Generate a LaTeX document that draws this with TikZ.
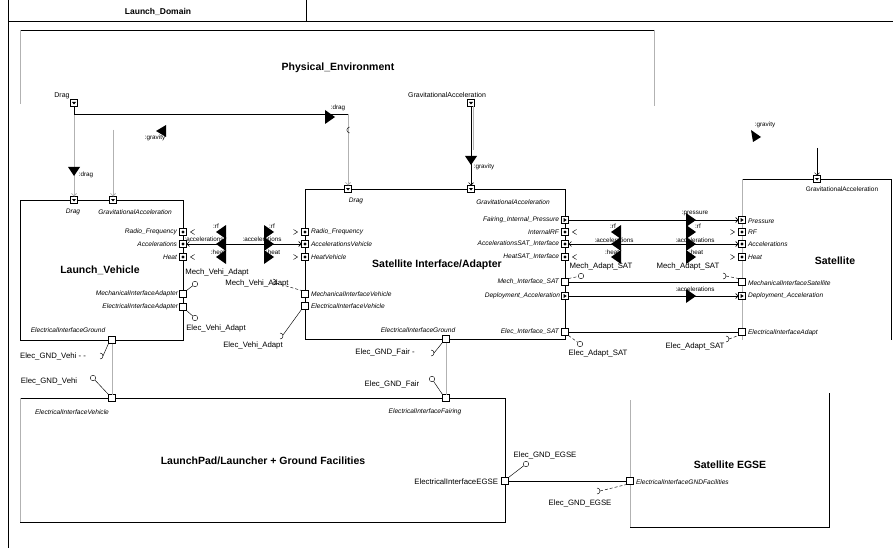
\documentclass[tikz,border=0pt]{standalone}
\usepackage{fontspec}
\setmainfont{Liberation Sans}
\usetikzlibrary{arrows.meta}
\newcommand\FlowL[2]{\fill (#1-6,#2) -- (#1+4,#2-7) -- (#1+4,#2+7) -- cycle;}
\newcommand\FlowR[2]{\fill (#1+6,#2) -- (#1-4,#2-7) -- (#1-4,#2+7) -- cycle;}
\newcommand\FlowD[2]{\fill (#1,#2+5) -- (#1-6,#2-4) -- (#1+6,#2-4) -- cycle;}
\newcommand\SockR[1]{\draw[wire] ([yshift=3pt]#1) arc[start angle=90,end angle=-90,radius=3pt];}
\newcommand\StubL[1]{\draw[wire] ([xshift=8pt,yshift=2.5pt]#1) -- ([xshift=4pt]#1) -- ([xshift=8pt,yshift=-2.5pt]#1);}
\newcommand\StubR[1]{\draw[wire] ([xshift=-8pt,yshift=2.5pt]#1) -- ([xshift=-4pt]#1) -- ([xshift=-8pt,yshift=-2.5pt]#1);}
\tikzset{
 every node/.style={inner sep=0pt, outer sep=0pt},
 plbl/.style={font=\fontsize{6.6}{7.5}\selectfont\itshape},
 lbl/.style={font=\fontsize{7.8}{9}\selectfont},
 flbl/.style={font=\fontsize{6.3}{7}\selectfont},
 ttl/.style={font=\fontsize{10.5}{12}\selectfont\bfseries},
 pbox/.style={draw, fill=white, minimum size=7pt, inner sep=0pt, line width=0.5pt},
 dotp/.style={pbox, path picture={\fill[black] (path picture bounding box.center) circle (1.7pt);}},
 trip/.style={pbox, path picture={\fill[black] ([shift={(-1.3pt,2pt)}]path picture bounding box.center) -- ++(3pt,-2pt) -- ++(-3pt,-2pt) -- cycle;}},
 topp/.style={pbox, path picture={\fill[black] ([shift={(-2pt,1pt)}]path picture bounding box.center) -- ++(4pt,0pt) -- ++(-2pt,-2.5pt) -- cycle;}},
 ball/.style={circle, draw, fill=white, minimum size=5.5pt, inner sep=0pt, line width=0.4pt},
 wire/.style={line width=0.45pt},
 gline/.style={gray!60, line width=0.8pt},
 blk/.style={draw, line width=0.6pt, anchor=north west},
 barb/.style={-{Straight Barb[length=2.5pt,width=5pt]}},
 dbarb/.style={{Straight Barb[length=2.5pt,width=5pt]}-{Straight Barb[length=2.5pt,width=5pt]}},
}
\begin{document}
\begin{tikzpicture}[x=1pt,y=-1pt]
\useasboundingbox[fill=white] (0,0) rectangle (893,548);
% frame
\draw[wire] (8,0) -- (8,548);
\draw[line width=0.6pt] (8,21) -- (893,21);
\draw[wire] (306,0) -- (306,21);
\node[font=\fontsize{8.5}{10}\selectfont\bfseries] (dom) at (158,12) {Launch\_Domain};

% Physical environment (partial box)
\draw[line width=0.6pt] (20,30) -- (654,30);
\draw[gline] (20,30) -- (20,104);
\draw[gline] (654,30) -- (654,106);
\node[ttl] (peT) at (338,68) {Physical\_Environment};
\node[topp] (peDrag) at (74,103) {};
\node[topp] (peGrav) at (471,103) {};
\node[font=\fontsize{7}{8}\selectfont] at (62,96) {Drag};
\node[font=\fontsize{7}{8}\selectfont] at (447,95) {GravitationalAcceleration};

% Launch vehicle
\node[blk, minimum width=163pt, minimum height=140pt] (lv) at (20,200) {};
\node[ttl] at (100,270) {Launch\_Vehicle};
\node[topp] (lvDrag) at (74,200) {};
\node[topp] (lvGrav) at (113,200) {};
\node[dotp] (lvRF) at (183,232) {};
\node[dotp] (lvAcc) at (183,244) {};
\node[dotp] (lvHeat) at (183,257) {};
\node[pbox] (lvMech) at (183,294) {};
\node[pbox] (lvElec) at (183,307) {};
\node[pbox] (lvGnd) at (112,340) {};
\node[plbl] at (73,212) {Drag};
\node[plbl] at (135,212) {GravitationalAcceleration};
\node[plbl, anchor=east] at (177,232) {Radio\_Frequency};
\node[plbl, anchor=east] at (177,244) {Accelerations};
\node[plbl, anchor=east] at (177,257) {Heat};
\node[plbl, anchor=east] at (178,294) {MechanicalInterfaceAdapter};
\node[plbl, anchor=east] at (178,307) {ElectricalInterfaceAdapter};
\node[plbl] at (68,330) {ElectricalInterfaceGround};

% Satellite interface/adapter
\node[blk, minimum width=260pt, minimum height=150pt] (sia) at (305,189) {};
\node[ttl] at (437,265) {Satellite Interface/Adapter};
\node[topp] (siaDrag) at (348,189) {};
\node[topp] (siaGrav) at (471,189) {};
\node[dotp] (siaRF) at (305,232) {};
\node[dotp] (siaAcc) at (305,244) {};
\node[dotp] (siaHeat) at (305,257) {};
\node[pbox] (siaMech) at (305,294) {};
\node[pbox] (siaElec) at (305,306) {};
\node[trip] (siaPres) at (565,220) {};
\node[dotp] (siaIRF) at (565,232) {};
\node[dotp] (siaAccS) at (565,244) {};
\node[dotp] (siaHeatS) at (565,257) {};
\node[pbox] (siaMechS) at (565,282) {};
\node[trip] (siaDep) at (565,296) {};
\node[pbox] (siaElecS) at (565,332) {};
\node[pbox] (siaGnd) at (446,339) {};
\node[plbl] at (356,201) {Drag};
\node[plbl] at (513,202) {GravitationalAcceleration};
\node[plbl, anchor=west] at (311,232) {Radio\_Frequency};
\node[plbl, anchor=west] at (311,244) {AccelerationsVehicle};
\node[plbl, anchor=west] at (311,257) {HeatVehicle};
\node[plbl, anchor=west] at (311,294) {MechanicalInterfaceVehicle};
\node[plbl, anchor=west] at (311,306) {ElectricalInterfaceVehicle};
\node[plbl, anchor=east] at (559,220) {Fairing\_Internal\_Pressure};
\node[plbl, anchor=east] at (559,232) {InternalRF};
\node[plbl, anchor=east] at (559,244) {AccelerationsSAT\_Interface};
\node[plbl, anchor=east] at (559,257) {HeatSAT\_Interface};
\node[plbl, anchor=east] at (559,282) {Mech\_Interface\_SAT};
\node[plbl, anchor=east] at (560,296) {Deployment\_Acceleration};
\node[plbl, anchor=east] at (559,332) {Elec\_Interface\_SAT};
\node[plbl] at (418,330) {ElectricalInterfaceGround};

% Satellite (partial box)
\draw[line width=0.6pt] (742,179) -- (891,179) -- (891,340);
\draw[gline] (742,179) -- (742,340);
\node[ttl] at (835,261) {Satellite};
\node[topp] (satGrav) at (817,179) {};
\node[trip] (satPres) at (742,220) {};
\node[dotp] (satRF) at (742,232) {};
\node[dotp] (satAcc) at (742,244) {};
\node[dotp] (satHeat) at (742,257) {};
\node[pbox] (satMech) at (742,282) {};
\node[trip] (satDep) at (742,296) {};
\node[pbox] (satElec) at (742,332) {};
\node[font=\fontsize{6.5}{7}\selectfont] at (842,189) {GravitationalAcceleration};
\node[plbl, anchor=west] at (748,221) {Pressure};
\node[plbl, anchor=west] at (748,232) {RF};
\node[plbl, anchor=west] at (748,244) {Accelerations};
\node[plbl, anchor=west] at (748,257) {Heat};
\node[plbl, anchor=west] at (748,283) {MechanicalInterfaceSatellite};
\node[plbl, anchor=west] at (748,296) {Deployment\_Acceleration};
\node[plbl, anchor=west] at (748,333) {ElectricalInterfaceAdapt};

% Launch pad
\node[blk, minimum width=485pt, minimum height=124pt] (lp) at (20,398) {};
\draw[gline] (20,398) -- (20,522);
\node[ttl] at (263,461) {LaunchPad/Launcher + Ground Facilities};
\node[pbox] (lpVeh) at (112,398) {};
\node[pbox] (lpFair) at (446,398) {};
\node[pbox] (lpEgse) at (505,481) {};
\node[plbl] at (72,412) {ElectricalInterfaceVehicle};
\node[plbl] at (425,412) {ElectricalInterfaceFairing};
\node[lbl, anchor=east] at (498,482) {ElectricalInterfaceEGSE};

% Satellite EGSE (open top)
\draw[line width=0.6pt] (630,400) -- (630,527) -- (829,527) -- (829,393);
\draw[gline] (630,400) -- (630,527);
\node[ttl] at (730,465) {Satellite EGSE};
\node[pbox] (egse) at (630,481) {};
\node[plbl, anchor=west] at (636,482) {ElectricalInterfaceGNDFacilities};

% drag flows
\coordinate (dragC) at (348,114);
\draw[gline, barb] (peDrag.south) -- (lvDrag.north);
\draw[line width=0.6pt] (peDrag.south) |- (dragC);
\draw[gline, barb] (dragC) -- (siaDrag.north);
\draw[wire] (349.5,127) .. controls (346,128) and (346,132) .. (349.5,133);
\FlowR{329}{117}
\node[flbl] at (338,108) {:drag};
\FlowD{74}{171}
\node[flbl] at (86,175) {:drag};

% gravity flows
\coordinate (gravTop) at (113,130);
\draw[gline, barb] (gravTop) -- (lvGrav.north);
\fill (156,131) -- (166,125) -- (166,137) -- cycle;
\node[flbl] at (155,138) {:gravity};
\draw[gline] ([xshift=2pt]peGrav.south) -- (473,150);
\draw[line width=0.6pt, barb] (peGrav.south) -- (siaGrav.north);
\FlowD{471}{160}
\node[flbl] at (484,167) {:gravity};
\coordinate (satGravTop) at (817,148);
\draw[wire, barb] (satGravTop) -- (satGrav.north);
\fill (761,137) -- (751,130) -- (753,142) -- cycle;
\node[flbl] at (765,125) {:gravity};

% LV <-> SIA flows
\draw[line width=0.6pt, dbarb] (lvAcc.east) -- (siaAcc.west);
\StubL{lvRF.east}
\StubL{lvHeat.east}
\StubR{siaRF.west}
\StubR{siaHeat.west}
\FlowL{222}{232}\FlowL{222}{244}\FlowL{222}{257}
\FlowR{268}{232}\FlowR{268}{244}\FlowR{268}{257}
\node[flbl] at (216,226) {:rf};
\node[flbl] at (204,239) {:accelerations};
\node[flbl] at (218,252) {:heat};
\node[flbl] at (272,226) {:rf};
\node[flbl] at (262,239) {:accelerations};
\node[flbl] at (273,252) {:heat};

% LV <-> SIA mech/elec
\node[ball] (bLvMech) at (195,284) {};
\draw[wire] (lvMech.north east) -- (bLvMech);
\node[ball] (bLvElec) at (195,318) {};
\draw[wire] (lvElec.south east) -- (bLvElec);
\coordinate (sSiaMech) at (273,282);
\SockR{sSiaMech}
\draw[wire, densely dashed] ([xshift=3pt,yshift=-1pt]sSiaMech) -- (siaMech.north west);
\coordinate (sSiaElec) at (280,336);
\SockR{sSiaElec}
\draw[wire] ([xshift=3pt,yshift=1pt]sSiaElec) -- (siaElec.south west);
\node[lbl] at (217,272) {Mech\_Vehi\_Adapt};
\node[lbl] at (257,283) {Mech\_Vehi\_Adapt};
\node[lbl] at (216,328) {Elec\_Vehi\_Adapt};
\node[lbl] at (253,345) {Elec\_Vehi\_Adapt};

% SIA <-> Satellite
\draw[line width=0.6pt, barb] (siaPres.east) -- (satPres.west);
\draw[line width=0.6pt, dbarb] (siaAccS.east) -- (satAcc.west);
\StubL{siaIRF.east}
\StubL{siaHeatS.east}
\StubR{satRF.west}
\StubR{satHeat.west}
\draw[line width=0.6pt] (siaMechS.east) -- (satMech.west);
\draw[line width=0.6pt, barb] (siaDep.east) -- (satDep.west);
\draw[line width=0.6pt] (siaElecS.east) -- (satElec.west);
\FlowL{617}{232}\FlowL{617}{244}\FlowL{617}{257}
\FlowR{690}{220}\FlowR{690}{232}\FlowR{690}{244}\FlowR{690}{257}
\FlowR{690}{296}
\node[flbl] at (695,213) {:pressure};
\node[flbl] at (613,226) {:rf};
\node[flbl] at (614,240) {:accelerations};
\node[flbl] at (612,252) {:heat};
\node[flbl] at (698,226) {:rf};
\node[flbl] at (695,240) {:accelerations};
\node[flbl] at (696,252) {:heat};
\node[flbl] at (695,289) {:accelerations};
\node[ball] (bSatMech) at (581,276) {};
\draw[wire, densely dashed] (siaMechS.north east) -- (bSatMech);
\node[ball] (bSatElec) at (580,344) {};
\draw[wire, densely dashed] (siaElecS.south east) -- (bSatElec);
\coordinate (sSatMech) at (723,276);
\SockR{sSatMech}
\draw[wire, densely dashed] ([xshift=3pt]sSatMech) -- (satMech.north west);
\coordinate (sSatElec) at (726,339);
\SockR{sSatElec}
\draw[wire, densely dashed] ([xshift=3pt]sSatElec) -- (satElec.south west);
\node[lbl] at (601,266) {Mech\_Adapt\_SAT};
\node[lbl] at (688,266) {Mech\_Adapt\_SAT};
\node[lbl] at (598,353) {Elec\_Adapt\_SAT};
\node[lbl] at (695,346) {Elec\_Adapt\_SAT};

% ground links
\draw[gline] (lvGnd.south) -- (lpVeh.north);
\draw[gline] (siaGnd.south) -- (lpFair.north);
\draw[line width=0.6pt] (lpEgse.east) -- (egse.west);
\coordinate (sLvGnd) at (100,356);
\SockR{sLvGnd}
\draw[wire] ([xshift=3pt]sLvGnd) -- (lvGnd.south west);
\node[ball] (bLvGnd) at (93,378) {};
\draw[wire] (bLvGnd) -- (lpVeh.north west);
\coordinate (sSiaGnd) at (431,353);
\SockR{sSiaGnd}
\draw[wire] ([xshift=3pt]sSiaGnd) -- (siaGnd.south west);
\node[ball] (bSiaGnd) at (432,379) {};
\draw[wire] (bSiaGnd) -- (lpFair.north west);
\node[ball] (bEgse) at (526,464) {};
\draw[wire] (lpEgse.north east) -- (bEgse);
\coordinate (sEgse) at (597,491);
\SockR{sEgse}
\draw[wire, densely dashed] ([xshift=3pt]sEgse) -- (egse.south west);
\node[lbl] at (53,356) {Elec\_GND\_Vehi - -};
\node[lbl] at (49,381) {Elec\_GND\_Vehi};
\node[lbl] at (385,352) {Elec\_GND\_Fair -};
\node[lbl] at (392,384) {Elec\_GND\_Fair};
\node[lbl] at (545,455) {Elec\_GND\_EGSE};
\node[lbl] at (580,503) {Elec\_GND\_EGSE};
\end{tikzpicture}
\end{document}
